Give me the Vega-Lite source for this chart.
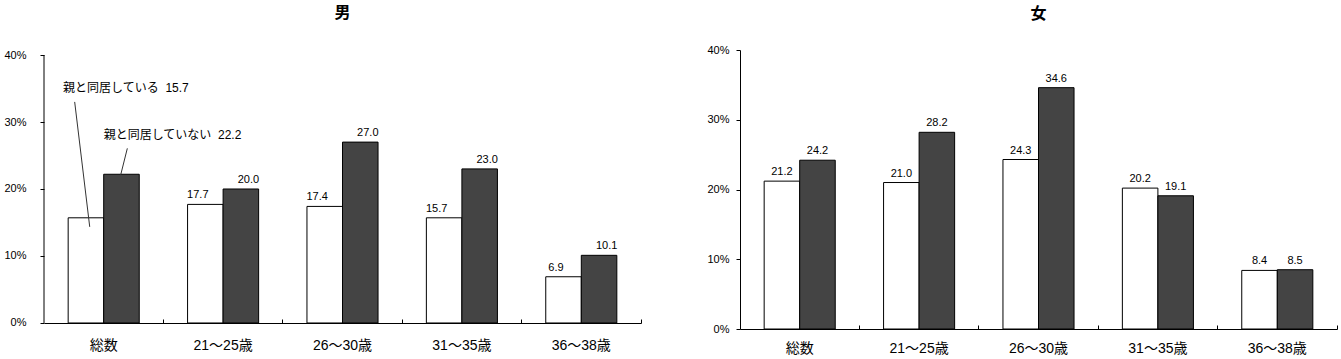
{
  "$schema": "https://vega.github.io/schema/vega-lite/v6.json",
  "background": "white",
  "padding": {"left": 3, "top": 5, "right": 0, "bottom": 0},
  "spacing": 64,
  "datasets": {
    "male": [
      {"age": "総数", "type": "親と同居している", "value": 15.7},
      {"age": "総数", "type": "親と同居していない", "value": 22.2},
      {"age": "21～25歳", "type": "親と同居している", "value": 17.7},
      {"age": "21～25歳", "type": "親と同居していない", "value": 20.0},
      {"age": "26～30歳", "type": "親と同居している", "value": 17.4},
      {"age": "26～30歳", "type": "親と同居していない", "value": 27.0},
      {"age": "31～35歳", "type": "親と同居している", "value": 15.7},
      {"age": "31～35歳", "type": "親と同居していない", "value": 23.0},
      {"age": "36～38歳", "type": "親と同居している", "value": 6.9},
      {"age": "36～38歳", "type": "親と同居していない", "value": 10.1}
    ],
    "female": [
      {"age": "総数", "type": "親と同居している", "value": 21.2},
      {"age": "総数", "type": "親と同居していない", "value": 24.2},
      {"age": "21～25歳", "type": "親と同居している", "value": 21.0},
      {"age": "21～25歳", "type": "親と同居していない", "value": 28.2},
      {"age": "26～30歳", "type": "親と同居している", "value": 24.3},
      {"age": "26～30歳", "type": "親と同居していない", "value": 34.6},
      {"age": "31～35歳", "type": "親と同居している", "value": 20.2},
      {"age": "31～35歳", "type": "親と同居していない", "value": 19.1},
      {"age": "36～38歳", "type": "親と同居している", "value": 8.4},
      {"age": "36～38歳", "type": "親と同居していない", "value": 8.5}
    ],
    "annText": [
      {"label": "親と同居している\u00a0\u00a015.7", "px": 0.16, "py": 35.1},
      {"label": "親と同居していない\u00a0\u00a022.2", "px": 0.5, "py": 28.06}
    ],
    "annLine": [
      {"px": 0.257, "py": 33.0, "px2": 0.383, "py2": 14.35},
      {"px": 0.698, "py": 26.07, "px2": 0.642, "py2": 22.08}
    ],
    "yLine": [
      {"px": 0, "py": 0, "py2": 40}
    ]
  },
  "config": {
    "view": {"stroke": null},
    "axis": {"domainColor": "black", "tickColor": "black", "labelColor": "black", "grid": false, "titleColor": "black"}
  },
  "hconcat": [
    {
      "width": 597,
      "height": 279,
      "title": {"text": "男", "font": "Noto Sans CJK JP", "fontSize": 16, "fontWeight": "bold", "color": "black", "offset": 28},
      "resolve": {"scale": {"x": "independent", "xOffset": "independent"}},
      "layer": [
        {
          "data": {"name": "male"},
          "mark": {"type": "bar", "stroke": "black", "strokeWidth": 1},
          "encoding": {
            "x": {"field": "age", "type": "nominal", "sort": ["総数", "21～25歳", "26～30歳", "31～35歳", "36～38歳"],
              "scale": {"paddingInner": 0, "paddingOuter": 0},
              "axis": {"title": null, "labelAngle": 0, "bandPosition": 1, "tickSize": -4, "labelPadding": 19, "offset": -6, "labelFont": "Liberation Sans, Noto Sans CJK JP", "labelFontSize": 14}},
            "xOffset": {"field": "type", "type": "nominal", "sort": ["親と同居している", "親と同居していない"], "scale": {"paddingInner": 0, "paddingOuter": 0.68}},
            "y": {"field": "value", "type": "quantitative", "scale": {"domain": [-0.9, 40.75], "nice": false, "zero": false},
              "axis": {"title": null, "domain": false, "values": [0, 10, 20, 30, 40], "labelExpr": "datum.value + '%'", "tickSize": 4, "labelPadding": 14, "labelFont": "Liberation Sans", "labelFontSize": 11}},
            "y2": {"datum": 0},
            "fill": {"field": "type", "type": "nominal", "scale": {"domain": ["親と同居している", "親と同居していない"], "range": ["#ffffff", "#444444"]}, "legend": null}
          }
        },
        {
          "data": {"name": "male"},
          "transform": [{"filter": "datum.age !== '総数'"}],
          "mark": {"type": "text", "baseline": "alphabetic", "dy": -6, "font": "Liberation Sans", "fontSize": 11, "color": "black"},
          "encoding": {
            "x": {"field": "age", "type": "nominal", "sort": ["総数", "21～25歳", "26～30歳", "31～35歳", "36～38歳"], "scale": {"domain": ["総数", "21～25歳", "26～30歳", "31～35歳", "36～38歳"], "paddingInner": 0, "paddingOuter": 0}, "axis": null},
            "xOffset": {"field": "type", "type": "nominal", "sort": ["親と同居している", "親と同居していない"], "scale": {"domain": ["親と同居している", "親と同居していない"], "paddingInner": 0, "paddingOuter": 0.68}},
            "y": {"field": "value", "type": "quantitative"},
            "text": {"field": "value", "type": "quantitative", "format": ".1f"}
          }
        },
        {
          "data": {"name": "annText"},
          "mark": {"type": "text", "align": "left", "baseline": "middle", "font": "Liberation Sans, Noto Sans CJK JP", "fontSize": 12, "color": "black"},
          "encoding": {
            "x": {"field": "px", "type": "quantitative", "scale": {"domain": [0, 5], "nice": false, "zero": false}, "axis": null},
            "y": {"field": "py", "type": "quantitative"},
            "text": {"field": "label", "type": "nominal"}
          }
        },
        {
          "data": {"name": "annLine"},
          "mark": {"type": "rule", "color": "#333333", "strokeWidth": 1},
          "encoding": {
            "x": {"field": "px", "type": "quantitative", "scale": {"domain": [0, 5], "nice": false, "zero": false}, "axis": null},
            "x2": {"field": "px2"},
            "y": {"field": "py", "type": "quantitative"},
            "y2": {"field": "py2"}
          }
        },
        {
          "data": {"name": "yLine"},
          "mark": {"type": "rule", "color": "black", "strokeWidth": 1},
          "encoding": {
            "x": {"field": "px", "type": "quantitative", "scale": {"domain": [0, 5], "nice": false, "zero": false}, "axis": null},
            "y": {"field": "py", "type": "quantitative"},
            "y2": {"field": "py2"}
          }
        }
      ]
    },
    {
      "width": 597,
      "height": 279,
      "title": {"text": "女", "font": "Noto Sans CJK JP", "fontSize": 16, "fontWeight": "bold", "color": "black", "offset": 22},
      "data": {"name": "female"},
      "encoding": {
        "x": {"field": "age", "type": "nominal", "sort": ["総数", "21～25歳", "26～30歳", "31～35歳", "36～38歳"],
          "scale": {"paddingInner": 0, "paddingOuter": 0},
          "axis": {"title": null, "labelAngle": 0, "bandPosition": 1, "tickSize": -4, "labelPadding": 16, "labelFont": "Liberation Sans, Noto Sans CJK JP", "labelFontSize": 14}},
        "xOffset": {"field": "type", "type": "nominal", "sort": ["親と同居している", "親と同居していない"], "scale": {"paddingInner": 0, "paddingOuter": 0.68}},
        "y": {"field": "value", "type": "quantitative", "scale": {"domain": [0, 40], "nice": false},
          "axis": {"title": null, "values": [0, 10, 20, 30, 40], "labelExpr": "datum.value + '%'", "tickSize": 4, "labelPadding": 7, "labelFont": "Liberation Sans", "labelFontSize": 11}}
      },
      "layer": [
        {
          "mark": {"type": "bar", "stroke": "black", "strokeWidth": 1},
          "encoding": {
            "fill": {"field": "type", "type": "nominal", "scale": {"domain": ["親と同居している", "親と同居していない"], "range": ["#ffffff", "#444444"]}, "legend": null}
          }
        },
        {
          "mark": {"type": "text", "baseline": "alphabetic", "dy": -6, "font": "Liberation Sans", "fontSize": 11, "color": "black"},
          "encoding": {
            "text": {"field": "value", "type": "quantitative", "format": ".1f"}
          }
        }
      ]
    }
  ]
}
